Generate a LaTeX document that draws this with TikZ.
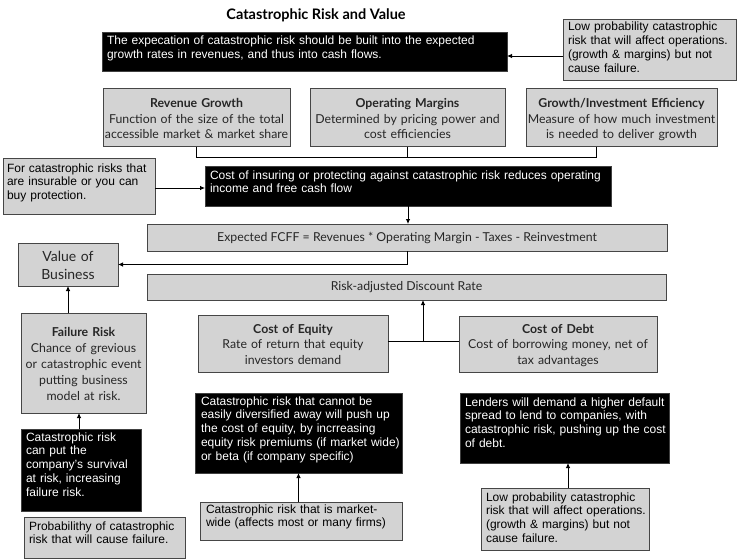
\documentclass[tikz,border=0pt]{standalone}
\usepackage{fontspec}
\setmainfont{Liberation Sans}
\newfontfamily\avfont{Lato}
\usetikzlibrary{arrows.meta}
\definecolor{boxgray}{RGB}{211,211,211}
\definecolor{edgegray}{RGB}{70,70,70}
\newcommand\lline[1]{\makebox[0pt][l]{#1}}
\newcommand\cln[1]{\makebox[0pt][c]{#1}}
\begin{document}
\begin{tikzpicture}[x=1pt,y=-1pt,
  every node/.style={inner sep=0pt, outer sep=0pt},
  graybox/.style={fill=boxgray, draw=edgegray, line width=1pt},
  blackbox/.style={fill=black, draw=black!75, line width=1pt, text=white},
  hv/.style={font=\fontsize{12}{13.8}\selectfont, align=left},
  av/.style={font=\avfont\fontsize{12.3}{15.5}\selectfont, align=center, text=black!85},
  bx/.style n args={4}{anchor=north west, text width={#1pt-2*#2pt}, inner xsep=#2pt, text height=#4pt, text depth={#3pt-#4pt}},
  arr/.style={line width=0.8pt, -{Latex[length=5pt,width=4.5pt]}},
  con/.style={line width=0.8pt},
]
\useasboundingbox (0,0) rectangle (742,559);

\node[font=\avfont\bfseries\fontsize{14.5}{17}\selectfont] (title) at (316,15) {Catastrophic Risk and Value};

\node[blackbox, hv, bx={405}{5}{39}{12}] (black1) at (102,33)
  {\lline{The expecation of catastrophic risk should be built into the expected}\\\lline{growth rates in revenues, and thus into cash flows.}};
\node[graybox, hv, bx={173}{5}{61}{11}] (lowtop) at (563,20)
  {\lline{Low probability catastrophic}\\\lline{risk that will affect operations.}\\\lline{(growth \& margins) but not}\\\lline{cause failure.}};

\node[graybox, av, bx={187}{0}{58}{19}] (rev) at (103,89)
  {\cln{\textbf{Revenue Growth}}\\\cln{Function of the size of the total}\\\cln{accessible market \& market share}};
\node[graybox, av, bx={195}{0}{58}{19}] (opm) at (310,89)
  {\cln{\textbf{Operating Margins}}\\\cln{Determined by pricing power and}\\\cln{cost efficiencies}};
\node[graybox, av, bx={191}{0}{58}{19}] (grow) at (526,89)
  {\cln{\textbf{Growth/Investment Efficiency}}\\\cln{Measure of how much investment}\\\cln{is needed to deliver growth}};

\node[graybox, hv, bx={152}{4}{55}{13}] (leftgray) at (3,159)
  {\lline{For catastrophic risks that}\\\lline{are insurable or you can}\\\lline{buy protection.}};
\node[blackbox, hv, bx={406}{5}{39}{12}] (black2) at (205,167)
  {\lline{Cost of insuring or protecting against catastrophic risk reduces operating}\\\lline{income and free cash flow}};

\node[graybox, av, anchor=north west, minimum width=520pt, minimum height=27pt] (fcff) at (147,224)
  {Expected FCFF = Revenues * Operating Margin - Taxes - Reinvestment};
\node[graybox, av, font=\avfont\fontsize{14}{18}\selectfont, bx={100}{0}{43}{18}] (vob) at (18,243)
  {\cln{Value of}\\\cln{Business}};
\node[graybox, av, anchor=north west, minimum width=519pt, minimum height=26pt] (risk) at (147,274)
  {Risk-adjusted Discount Rate};

\node[graybox, av, bx={190}{0}{57}{18}] (coe) at (198,315)
  {\cln{\textbf{Cost of Equity}}\\\cln{Rate of return that equity}\\\cln{investors demand}};
\node[graybox, av, bx={198}{0}{56}{17}] (cod) at (459,316)
  {\cln{\textbf{Cost of Debt}}\\\cln{Cost of borrowing money, net of}\\\cln{tax advantages}};
\node[graybox, av, font=\avfont\fontsize{12.3}{16}\selectfont, bx={125}{0}{100}{23}] (fail) at (21,313)
  {\cln{\textbf{Failure Risk}}\\\cln{Chance of grevious}\\\cln{or catastrophic event}\\\cln{putting business}\\\cln{model at risk.}};

\node[blackbox, hv, bx={120}{5}{82}{12}] (blackleft) at (21,429)
  {\lline{Catastrophic risk}\\\lline{can put the}\\\lline{company's survival}\\\lline{at risk, increasing}\\\lline{failure risk.}};
\node[graybox, hv, bx={161}{5}{41}{13}] (graybl) at (24,517)
  {\lline{Probabilithy of catastrophic}\\\lline{risk that will cause failure.}};

\node[blackbox, hv, bx={207}{6}{80}{12}] (blackmid) at (195,393)
  {\lline{Catastrophic risk that cannot be}\\\lline{easily diversified away will push up}\\\lline{the cost of equity, by incrreasing}\\\lline{equity risk premiums (if market wide)}\\\lline{or beta (if company specific)}};
\node[graybox, hv, bx={202}{6}{38}{11}] (graymid) at (200,502)
  {\lline{Catastrophic risk that is market-}\\\lline{wide (affects most or many firms)}};

\node[blackbox, hv, bx={209}{5}{70}{13}] (blackright) at (460,393)
  {\lline{Lenders will demand a higher default}\\\lline{spread to lend to companies, with}\\\lline{catastrophic risk, pushing up the cost}\\\lline{of debt.}};
\node[graybox, hv, bx={168}{5}{62}{13}] (grayright) at (481,488)
  {\lline{Low probability catastrophic}\\\lline{risk that will affect operations.}\\\lline{(growth \& margins) but not}\\\lline{cause failure.}};

% connectors
\draw[arr] ([yshift=-5.5pt]lowtop.west) -- ([yshift=-5.5pt]lowtop.west -| black1.east);

\coordinate (brk) at (0,157);
\draw[con] (rev.south) -- (rev.south |- brk) -- ([xshift=-25.5pt]grow.south |- brk) -- ([xshift=-25.5pt]grow.south);
\draw[con] (opm.south) -- (opm.south |- brk);

\draw[arr] ([yshift=-1.5pt]leftgray.east) -- ([yshift=-1.5pt]leftgray.east -| black2.west);
\draw[arr] (black2.south) -- (black2.south |- fcff.north);
\draw[arr] (fcff.south) |- (vob.east);

\coordinate (jn) at (423,341);
\draw[con] (coe.east |- jn) -- (cod.west |- jn);
\draw[arr] (jn) -- (jn |- risk.south);

\draw[arr] (vob.south |- fail.north) -- (vob.south);
\draw[arr] ([xshift=-2pt]blackleft.north) -- ([xshift=-2pt]blackleft.north |- fail.south);
\draw[arr] (blackmid.south |- graymid.north) -- (blackmid.south);
\draw[arr] ([xshift=3pt]grayright.north) -- ([xshift=3pt]grayright.north |- blackright.south);
\end{tikzpicture}
\end{document}
